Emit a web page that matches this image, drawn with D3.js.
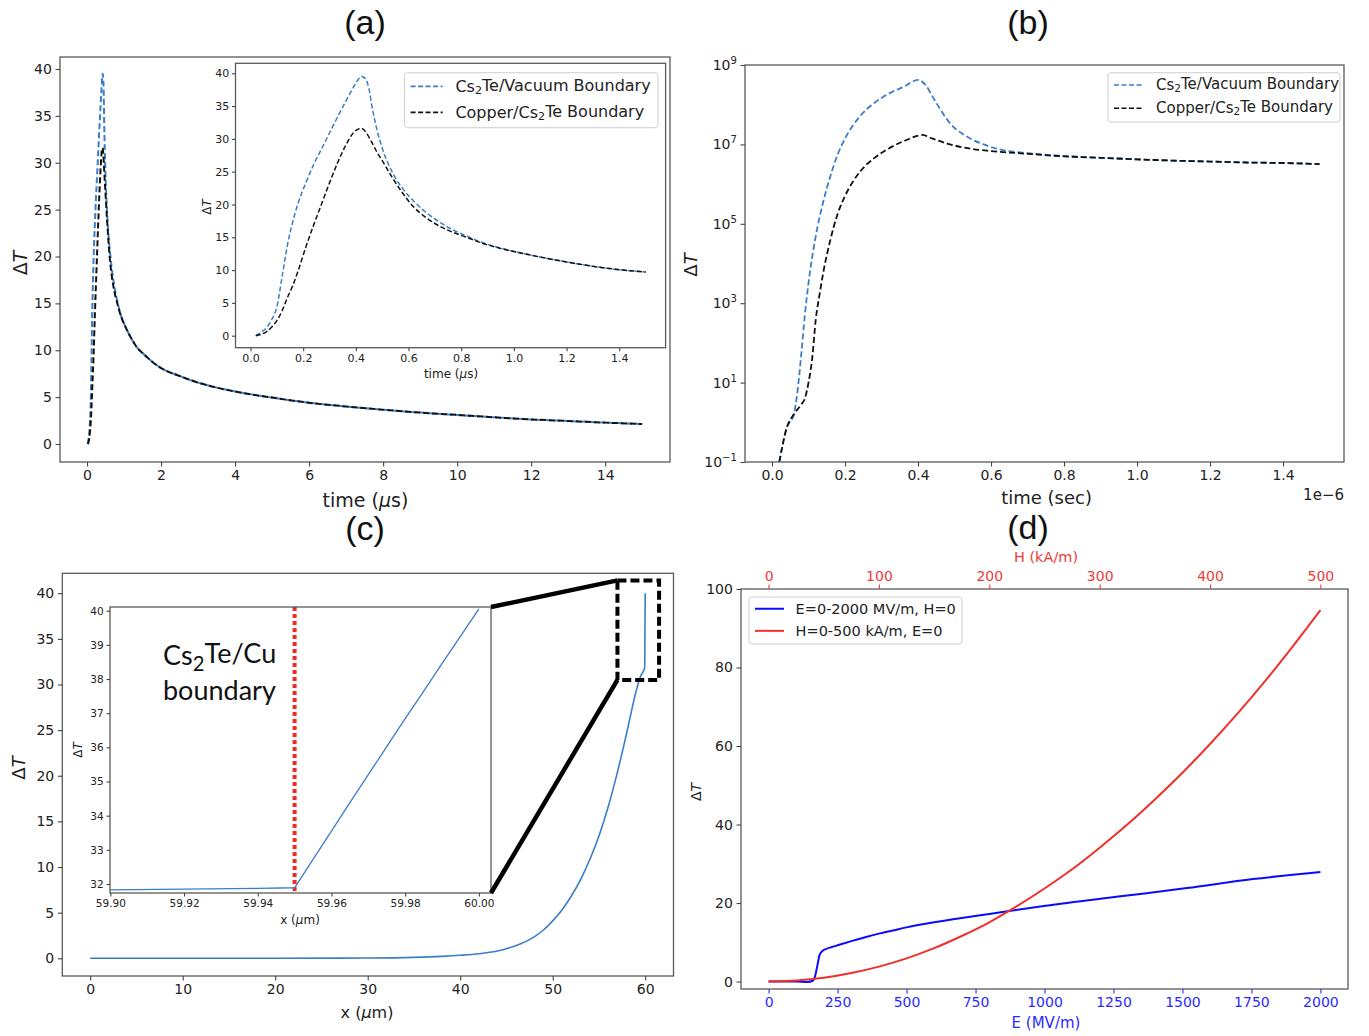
<!DOCTYPE html>
<html>
<head>
<meta charset="utf-8">
<script src="https://cdn.jsdelivr.net/npm/d3@7"></script>
<style>
  body { margin: 0; background: #fff; }
</style>
</head>
<body>
<svg id="fig" width="1369" height="1036"></svg>
<script>
// ---------- data ----------
// (a) temperature rise vs time, in microseconds
const tVacuum = [0.02, 0.04, 0.06, 0.08, 0.10, 0.12, 0.14, 0.16, 0.18, 0.21, 0.24, 0.27, 0.30, 0.33, 0.36, 0.39, 0.41, 0.42, 0.43, 0.44, 0.45, 0.46, 0.48, 0.50, 0.54, 0.58, 0.62, 0.66, 0.70, 0.76, 0.82, 0.88, 0.95, 1.05, 1.15, 1.25, 1.35, 1.5, 2, 2.5, 3, 4, 5, 6, 7, 8, 9, 10, 11, 12, 13, 14, 15];
const dtVacuum = [0, 0.5, 1.2, 2.4, 4.4, 9.0, 13.8, 17.3, 20.1, 23.3, 26.1, 28.5, 30.9, 33.3, 35.6, 37.8, 39.1, 39.5, 39.4, 38.9, 37.6, 35.2, 31.4, 28.6, 24.8, 22.3, 20.5, 19.0, 17.8, 16.3, 15.2, 14.2, 13.35, 12.4, 11.6, 10.9, 10.3, 9.7, 8.1, 7.25, 6.55, 5.6, 4.95, 4.4, 4.0, 3.65, 3.35, 3.1, 2.85, 2.62, 2.45, 2.28, 2.13];
const tCopper = [0.02, 0.04, 0.06, 0.08, 0.10, 0.12, 0.14, 0.16, 0.18, 0.21, 0.24, 0.27, 0.30, 0.33, 0.36, 0.39, 0.41, 0.42, 0.43, 0.44, 0.46, 0.48, 0.50, 0.54, 0.58, 0.62, 0.66, 0.70, 0.76, 0.82, 0.88, 0.95, 1.05, 1.15, 1.25, 1.35, 1.5, 2, 2.5, 3, 4, 5, 6, 7, 8, 9, 10, 11, 12, 13, 14, 15];
const dtCopper = [0, 0.2, 0.6, 1.3, 2.3, 3.8, 5.8, 7.6, 9.8, 13.5, 16.9, 20.1, 23.3, 26.3, 28.9, 30.9, 31.5, 31.6, 31.4, 30.9, 29.5, 28.0, 26.7, 24.0, 21.6, 19.6, 18.2, 17.1, 15.9, 15.0, 14.1, 13.3, 12.4, 11.6, 10.9, 10.3, 9.7, 8.1, 7.25, 6.55, 5.6, 4.95, 4.4, 4.0, 3.65, 3.35, 3.1, 2.85, 2.62, 2.45, 2.28, 2.13];

// (b) same quantity on a log axis, time in seconds
const tLogVacuum = [0.02e-6, 0.04e-6, 0.06e-6, 0.07e-6, 0.08e-6, 0.09e-6, 0.10e-6, 0.12e-6, 0.14e-6, 0.16e-6, 0.18e-6, 0.20e-6, 0.24e-6, 0.28e-6, 0.32e-6, 0.36e-6, 0.40e-6, 0.42e-6, 0.44e-6, 0.46e-6, 0.48e-6, 0.50e-6, 0.52e-6, 0.55e-6, 0.58e-6, 0.62e-6, 0.70e-6, 0.80e-6, 0.90e-6, 1.0e-6, 1.1e-6, 1.2e-6, 1.3e-6, 1.4e-6, 1.5e-6];
const dtLogVacuum = [0.1, 0.71, 1.6, 6.3, 50, 500, 3.2e3, 5.0e4, 3.5e5, 1.6e6, 5.6e6, 1.4e7, 5.0e7, 1.1e8, 1.9e8, 2.8e8, 4.2e8, 3.2e8, 1.6e8, 7.9e7, 4.2e7, 2.6e7, 1.9e7, 1.3e7, 1.0e7, 7.6e6, 6.0e6, 5.1e6, 4.6e6, 4.2e6, 3.9e6, 3.7e6, 3.5e6, 3.4e6, 3.2e6];
const tLogCopper = [0.02e-6, 0.04e-6, 0.06e-6, 0.08e-6, 0.09e-6, 0.10e-6, 0.11e-6, 0.12e-6, 0.13e-6, 0.14e-6, 0.16e-6, 0.18e-6, 0.20e-6, 0.24e-6, 0.28e-6, 0.32e-6, 0.36e-6, 0.40e-6, 0.41e-6, 0.44e-6, 0.48e-6, 0.54e-6, 0.60e-6, 0.70e-6, 0.80e-6, 0.90e-6, 1.0e-6, 1.1e-6, 1.2e-6, 1.3e-6, 1.4e-6, 1.5e-6];
const dtLogCopper = [0.1, 0.71, 1.6, 2.8, 4.0, 10, 40, 400, 1.6e3, 5.6e3, 4.0e4, 1.8e5, 5.0e5, 2.0e6, 4.5e6, 7.9e6, 1.2e7, 1.66e7, 1.74e7, 1.4e7, 1.05e7, 7.9e6, 6.8e6, 5.8e6, 5.0e6, 4.6e6, 4.2e6, 3.9e6, 3.7e6, 3.5e6, 3.4e6, 3.2e6];

// (c) temperature rise vs depth, micrometres
const depth = [0, 10, 20, 30, 35, 38, 40, 42, 44, 45, 46, 47, 48, 49, 50, 51, 52, 53, 54, 55, 56, 57, 58, 58.5, 59, 59.5, 59.95, 60];
const dtDepth = [0, 0, 0, 0.03, 0.1, 0.21, 0.33, 0.5, 0.8, 1.05, 1.38, 1.8, 2.35, 3.1, 4.1, 5.3, 6.8, 8.6, 10.8, 13.4, 16.6, 20.4, 24.7, 27.0, 29.2, 30.9, 31.85, 40];
const depthZoom = [59.9, 59.92, 59.94, 59.95, 59.955, 59.96, 59.965, 59.97, 59.975, 59.98, 59.985, 59.99, 59.995, 60.0];
const dtDepthZoom = [31.83, 31.85, 31.87, 31.89, 32.72, 33.55, 34.38, 35.2, 36.02, 36.84, 37.64, 38.45, 39.25, 40.05];
const boundaryX = 59.95;
const zoomBox = [57, 61.5, 30.5, 41.4]; // x0, x1, y0, y1 in data units

// (d) temperature rise vs field strength
const eField = [0, 100, 141, 160, 165, 170, 176, 185, 195, 205, 230, 253, 300, 350, 400, 450, 500, 600, 700, 800, 1004, 1276, 1516, 1755, 2000];
const dtE = [0, 0, -0.1, 0.2, 0.6, 1.8, 3.8, 6.8, 7.8, 8.2, 8.8, 9.3, 10.3, 11.3, 12.2, 13.0, 13.8, 15.1, 16.2, 17.2, 19.3, 21.7, 23.8, 26.1, 27.9];
const hField = [0, 25, 50, 75, 100, 125, 150, 175, 200, 225, 250, 275, 300, 325, 350, 375, 400, 425, 450, 475, 500];
const dtH = [0, 0.25, 0.95, 2.15, 3.8, 5.9, 8.5, 11.6, 15.1, 19.2, 23.7, 28.6, 34.1, 40.0, 46.4, 53.2, 60.5, 68.3, 76.6, 85.4, 94.6];

// tick labels
const ticksA = [0, 2, 4, 6, 8, 10, 12, 14];
const ticksAy = [0, 5, 10, 15, 20, 25, 30, 35, 40];
const ticksAin = [0, 0.2, 0.4, 0.6, 0.8, 1.0, 1.2, 1.4];
const ticksB = [0, 0.2e-6, 0.4e-6, 0.6e-6, 0.8e-6, 1.0e-6, 1.2e-6, 1.4e-6];
const ticksBy = [1e-1, 1e1, 1e3, 1e5, 1e7, 1e9];
const ticksC = [0, 10, 20, 30, 40, 50, 60];
const ticksCin = [59.90, 59.92, 59.94, 59.96, 59.98, 60.00];
const ticksCiny = [32, 33, 34, 35, 36, 37, 38, 39, 40];
const ticksE = [0, 250, 500, 750, 1000, 1250, 1500, 1750, 2000];
const ticksH = [0, 100, 200, 300, 400, 500];
const ticksDy = [0, 20, 40, 60, 80, 100];

// ---------- drawing ----------
const F = "DejaVu Sans, sans-serif";
const BLUE = "#3b7dc6";
const svg = d3.select("#fig");
const defs = svg.append("defs");
let clipCount = 0;

function makeAxes(box, xDom, yDom, xScale, yScale, bg) {
  const g = svg.append("g");
  if (bg) g.append("rect").attr("x", box.l).attr("y", box.t)
    .attr("width", box.r - box.l).attr("height", box.b - box.t).attr("fill", "#fff");
  const x = (xScale || d3.scaleLinear)().domain(xDom).range([box.l, box.r]);
  const y = (yScale || d3.scaleLinear)().domain(yDom).range([box.b, box.t]);
  const id = "clip" + (clipCount++);
  defs.append("clipPath").attr("id", id).append("rect")
    .attr("x", box.l).attr("y", box.t).attr("width", box.r - box.l).attr("height", box.b - box.t);
  const plot = g.append("g").attr("clip-path", "url(#" + id + ")");
  return {g, x, y, plot, box};
}

function frame(ax) {
  const b = ax.box;
  ax.g.append("rect").attr("x", b.l).attr("y", b.t)
    .attr("width", b.r - b.l).attr("height", b.b - b.t)
    .attr("fill", "none").attr("stroke", "#5a5a5a").attr("stroke-width", 1.3);
}

function style(sel, size, color) {
  sel.select(".domain").remove();
  sel.selectAll(".tick line").attr("stroke", color || "#444").attr("stroke-width", 1.1);
  sel.selectAll(".tick text").attr("font-family", F).attr("font-size", size).attr("fill", color || "#222");
}

function xAxis(ax, ticks, fmt, size, len, color, top) {
  const a = (top ? d3.axisTop(ax.x) : d3.axisBottom(ax.x)).tickValues(ticks).tickFormat(fmt)
    .tickSize(len).tickPadding(len * 0.8);
  ax.g.append("g").attr("transform", "translate(0," + (top ? ax.box.t : ax.box.b) + ")")
    .call(a).call(s => style(s, size, color));
}

function yAxis(ax, ticks, fmt, size, len) {
  const a = d3.axisLeft(ax.y).tickValues(ticks).tickFormat(fmt).tickSize(len).tickPadding(len * 0.8);
  return ax.g.append("g").attr("transform", "translate(" + ax.box.l + ",0)")
    .call(a).call(s => style(s, size));
}

function pairs(xs, ys) { return xs.map((v, i) => [v, ys[i]]); }

function curve(ax, data, color, width, dash, shape) {
  const line = d3.line().x(d => ax.x(d[0])).y(d => ax.y(d[1])).curve(shape || d3.curveMonotoneX);
  ax.plot.append("path").datum(data).attr("d", line)
    .attr("fill", "none").attr("stroke", color).attr("stroke-width", width)
    .attr("stroke-dasharray", dash || null).attr("stroke-linejoin", "round");
}

function deltaT(x, y, size, rotate) {
  const t = svg.append("text").attr("x", x).attr("y", y)
    .attr("font-family", F).attr("font-size", size).attr("fill", "#222")
    .attr("text-anchor", "middle").attr("dominant-baseline", "central");
  if (rotate) t.attr("transform", "rotate(-90," + x + "," + y + ")");
  t.append("tspan").text("Δ");
  t.append("tspan").attr("font-style", "italic").text("T");
  return t;
}

function unitLabel(x, y, size, pre, greek, post, color) {
  const t = svg.append("text").attr("x", x).attr("y", y)
    .attr("font-family", F).attr("font-size", size).attr("fill", color || "#222")
    .attr("text-anchor", "middle").attr("dominant-baseline", "central");
  t.append("tspan").text(pre);
  if (greek) t.append("tspan").attr("font-style", "italic").text(greek);
  t.append("tspan").text(post);
}

function csLabel(t, rest, before) {
  if (before) t.append("tspan").text(before);
  t.append("tspan").text("Cs");
  t.append("tspan").attr("font-size", "0.7em").attr("dy", "0.3em").text("2");
  t.append("tspan").attr("dy", "-0.3em").text(rest);
}

function legend(x, y, w, h, rows, size) {
  const g = svg.append("g");
  g.append("rect").attr("x", x).attr("y", y).attr("width", w).attr("height", h).attr("rx", 3)
    .attr("fill", "#fff").attr("fill-opacity", 0.85).attr("stroke", "#d0d0d0");
  rows.forEach((r, i) => {
    const cy = y + h * (i === 0 ? 0.25 : 0.72);
    g.append("line").attr("x1", x + 6).attr("x2", x + 6 + size * 2).attr("y1", cy).attr("y2", cy)
      .attr("stroke", r.color).attr("stroke-width", r.width).attr("stroke-dasharray", r.dash || null);
    const t = g.append("text").attr("x", x + 6 + size * 2.8).attr("y", cy)
      .attr("dominant-baseline", "central").attr("font-family", F).attr("font-size", size).attr("fill", "#222");
    r.text(t);
  });
}

function title(x, y, s) {
  svg.append("text").attr("x", x).attr("y", y).attr("text-anchor", "middle").attr("dominant-baseline", "central")
    .attr("font-family", "Liberation Sans, Arial, sans-serif").attr("font-size", 34).attr("fill", "#111").text(s);
}

// ---- (a) ----
const vac = pairs(tVacuum, dtVacuum), cop = pairs(tCopper, dtCopper);
const axA = makeAxes({l: 60, r: 670, t: 57, b: 462}, [-0.73, 15.75], [-1.92, 41.28]);
curve(axA, vac, BLUE, 2, "6,3");
curve(axA, cop, "#111", 2, "6,3");
frame(axA);
xAxis(axA, ticksA, d3.format("d"), 14, 4.5);
yAxis(axA, ticksAy, d3.format("d"), 14, 4.5);
deltaT(19.5, 263, 19, true);
unitLabel(365.5, 500, 19, "time (", "μ", "s)");

const axAi = makeAxes({l: 235.5, r: 665.6, t: 63.3, b: 347.7}, [-0.057, 1.576], [-1.83, 41.52], null, null, true);
curve(axAi, vac.filter(d => d[0] <= 1.5), BLUE, 1.5, "5,2.5");
curve(axAi, cop.filter(d => d[0] <= 1.5), "#111", 1.5, "5,2.5");
frame(axAi);
xAxis(axAi, ticksAin, d3.format(".1f"), 11, 3.5);
yAxis(axAi, ticksAy, d3.format("d"), 11, 3.5);
deltaT(207, 207, 12, true);
unitLabel(451, 374, 12, "time (", "μ", "s)");
legend(404.6, 72.7, 253.4, 55, [
  {color: BLUE, width: 1.8, dash: "5,2.5", text: t => csLabel(t, "Te/Vacuum Boundary")},
  {color: "#111", width: 1.8, dash: "5,2.5", text: t => csLabel(t, "Te Boundary", "Copper/")}
], 16);

// ---- (b) ----
const axB = makeAxes({l: 745, r: 1344, t: 65, b: 462}, [-0.074e-6, 1.567e-6], [1e-1, 1e9], null, d3.scaleLog);
curve(axB, pairs(tLogVacuum, dtLogVacuum), BLUE, 1.8, "6,3");
curve(axB, pairs(tLogCopper, dtLogCopper), "#111", 1.8, "6,3");
frame(axB);
xAxis(axB, ticksB, d => (d * 1e6).toFixed(1), 14, 4.5);
yAxis(axB, ticksBy, () => "", 14, 4.5).selectAll(".tick text").each(function(d) {
  const e = Math.round(Math.log10(d));
  const t = d3.select(this);
  t.append("tspan").text("10");
  t.append("tspan").attr("font-size", "0.72em").attr("dy", "-0.6em").text(e < 0 ? "−" + (-e) : e);
});
deltaT(690, 265, 18, true);
unitLabel(1046.6, 497, 18, "time (sec)", null, "");
svg.append("text").attr("x", 1344).attr("y", 495).attr("text-anchor", "end").attr("dominant-baseline", "central")
  .attr("font-family", F).attr("font-size", 15).attr("fill", "#222").text("1e−6");
legend(1108, 72.7, 232, 49.3, [
  {color: BLUE, width: 1.6, dash: "5,2.5", text: t => csLabel(t, "Te/Vacuum Boundary")},
  {color: "#111", width: 1.6, dash: "5,2.5", text: t => csLabel(t, "Te Boundary", "Copper/")}
], 15);

// ---- (c) ----
const axC = makeAxes({l: 62.3, r: 673.5, t: 573.3, b: 976}, [-3.02, 63.06], [-1.94, 42.18]);
curve(axC, pairs(depth, dtDepth), BLUE, 1.6);
frame(axC);
xAxis(axC, ticksC, d3.format("d"), 14, 4.5);
yAxis(axC, ticksAy, d3.format("d"), 14, 4.5);
deltaT(18, 768, 18, true);
unitLabel(367, 1012, 16, "x (", "μ", "m)");

const axCi = makeAxes({l: 110, r: 491, t: 607, b: 893}, [59.8999, 60.0033], [31.737, 40.108], null, null, true);
axCi.plot.append("line").attr("x1", axCi.x(boundaryX)).attr("x2", axCi.x(boundaryX))
  .attr("y1", axCi.box.t).attr("y2", axCi.box.b)
  .attr("stroke", "#ee2a22").attr("stroke-width", 4).attr("stroke-dasharray", "4,3");
curve(axCi, pairs(depthZoom, dtDepthZoom), BLUE, 1.3, null, d3.curveLinear);
frame(axCi);
xAxis(axCi, ticksCin, d => d.toFixed(2), 10.5, 3.5);
yAxis(axCi, ticksCiny, d3.format("d"), 10.5, 3.5);
deltaT(78, 750, 12, true);
unitLabel(300, 920, 12, "x (", "μ", "m)");

const ann = svg.append("text").attr("x", 163).attr("y", 665)
  .attr("font-family", "Lato, Open Sans, sans-serif").attr("font-size", 27).attr("fill", "#111");
ann.append("tspan").text("Cs");
ann.append("tspan").attr("font-size", "0.75em").attr("dy", "0.3em").text("2");
ann.append("tspan").attr("dy", "-0.3em").text("Te/Cu");
svg.append("text").attr("x", 163).attr("y", 700)
  .attr("font-family", "Lato, Open Sans, sans-serif").attr("font-size", 27).attr("fill", "#111").text("boundary");

// zoom box and connectors
const bx0 = axC.x(zoomBox[0]), bx1 = axC.x(zoomBox[1]), by0 = axC.y(zoomBox[2]), by1 = axC.y(zoomBox[3]);
svg.append("line").attr("x1", axCi.box.r).attr("y1", axCi.box.t).attr("x2", bx0).attr("y2", by1)
  .attr("stroke", "#000").attr("stroke-width", 4.5);
svg.append("line").attr("x1", axCi.box.r).attr("y1", axCi.box.b).attr("x2", bx0).attr("y2", by0)
  .attr("stroke", "#000").attr("stroke-width", 4.5);
svg.append("rect").attr("x", bx0).attr("y", by1).attr("width", bx1 - bx0).attr("height", by0 - by1)
  .attr("fill", "none").attr("stroke", "#000").attr("stroke-width", 4).attr("stroke-dasharray", "9,4");

// ---- (d) ----
const axD = makeAxes({l: 741, r: 1348, t: 589, b: 989}, [-100, 2100], [-1.9, 100]);
const hScale = d3.scaleLinear().domain([-25, 525]).range([741, 1348]);
const axH = {g: axD.g, x: hScale, y: axD.y, box: axD.box, plot: axD.plot};
curve(axD, pairs(eField, dtE), "#0a0aff", 2);
curve(axH, pairs(hField, dtH), "#f0302a", 2);
frame(axD);
xAxis(axD, ticksE, d3.format("d"), 14, 4.5, "#2a2aff");
xAxis(axH, ticksH, d3.format("d"), 14, 4.5, "#f03a3a", true);
yAxis(axD, ticksDy, d3.format("d"), 14, 4.5);
deltaT(695.5, 792, 14, true);
unitLabel(1046, 1023, 15, "E (MV/m)", null, "", "#2a2aff");
unitLabel(1046, 557, 14.5, "H (kA/m)", null, "", "#f03a3a");
legend(749, 597, 213, 47, [
  {color: "#0a0aff", width: 2, text: t => t.text("E=0-2000 MV/m, H=0")},
  {color: "#f0302a", width: 2, text: t => t.text("H=0-500 kA/m, E=0")}
], 14.5);

// ---- panel titles ----
title(365, 22, "(a)");
title(1028, 22, "(b)");
title(365, 528, "(c)");
title(1028, 527, "(d)");
</script>
</body>
</html>
